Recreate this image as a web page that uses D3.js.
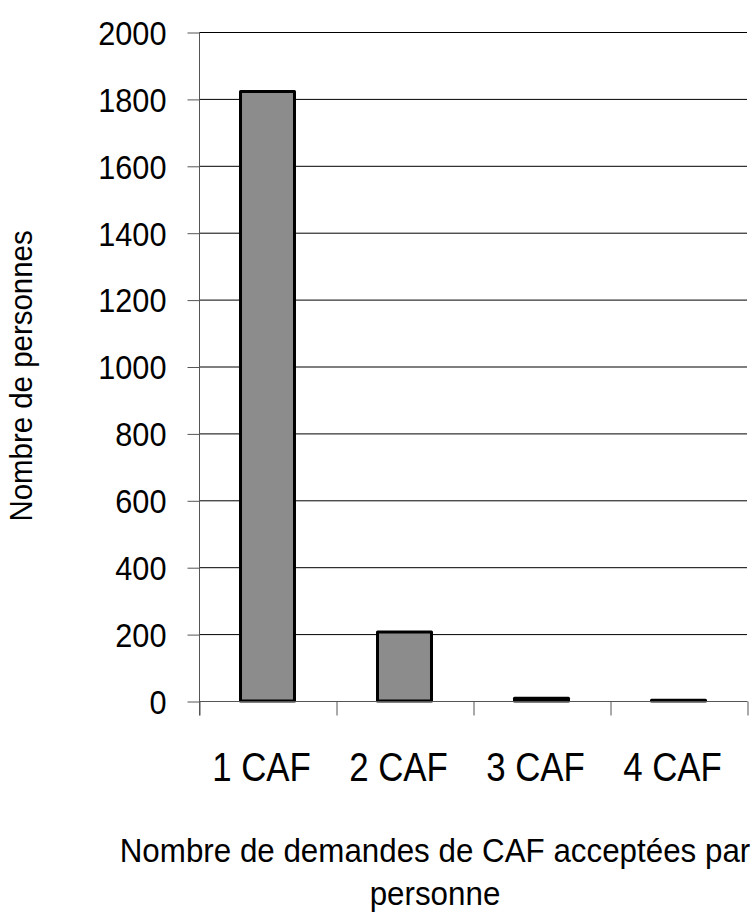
<!DOCTYPE html>
<html>
<head>
<meta charset="utf-8">
<script src="https://cdn.jsdelivr.net/npm/d3@7"></script>
<style>
  html, body { margin: 0; padding: 0; background: #fff; }
  svg text { font-family: "Liberation Sans", Arial, sans-serif; fill: #000; }
</style>
</head>
<body>
<svg id="chart" width="755" height="914"></svg>
<script>
// Number of accepted CAF requests per person
const categories = ["1 CAF", "2 CAF", "3 CAF", "4 CAF"];
const persons = [1822, 206, 8, 2];
const yTicks = [0, 200, 400, 600, 800, 1000, 1200, 1400, 1600, 1800, 2000];
const yTitle = "Nombre de personnes";
const xTitleLines = ["Nombre de demandes de CAF acceptées par", "personne"];

const svg = d3.select("#chart");
const plotLeft = 199, plotRight = 747, plotTop = 32, plotBottom = 701;

const y = d3.scaleLinear().domain([0, 2000]).range([plotBottom, plotTop]);
const x = d3.scaleBand().domain(categories).range([plotLeft, plotRight])
  .paddingInner(0.606).paddingOuter(0.303);
const xEdges = d3.scaleLinear().domain([0, categories.length]).range([plotLeft, plotRight]);

// horizontal gridlines
svg.append("g")
  .selectAll("line")
  .data(yTicks.filter(d => d > 0))
  .join("line")
  .attr("x1", plotLeft).attr("x2", plotRight)
  .attr("y1", d => y(d) + 0.5).attr("y2", d => y(d) + 0.5)
  .attr("stroke", "#000").attr("stroke-width", 1);

// bars
svg.append("g")
  .selectAll("rect")
  .data(categories)
  .join("rect")
  .attr("x", d => x(d))
  .attr("width", x.bandwidth())
  .attr("y", (d, i) => y(persons[i]))
  .attr("height", (d, i) => plotBottom - y(persons[i]))
  .attr("fill", "#8c8c8c")
  .attr("stroke", "#000")
  .attr("stroke-width", 3)
  .attr("stroke-linejoin", "round");

// y axis
const yAxis = svg.append("g")
  .attr("transform", `translate(${plotLeft + 0.5},0.5)`)
  .call(d3.axisLeft(y).tickValues(yTicks).tickSize(12).tickPadding(21).tickFormat(d3.format("d")));
yAxis.select(".domain").attr("stroke", "#555").attr("d", `M0,${plotTop - 0.5}V${plotBottom + 14}`);
yAxis.selectAll(".tick line").attr("stroke", "#555");
yAxis.selectAll(".tick text")
  .attr("font-size", 33)
  .attr("font-family", "Liberation Sans, Arial, sans-serif")
  .attr("fill", "#000")
  .attr("dy", "0.36em")
  .attr("transform", function () {
    const tx = +d3.select(this).attr("x");
    d3.select(this).attr("x", null);
    return `translate(${tx},0) scale(0.93,1)`;
  });

// x axis: category boundaries
const xAxis = svg.append("g")
  .attr("transform", `translate(0.5,${plotBottom + 0.5})`)
  .call(d3.axisBottom(xEdges).tickValues(d3.range(categories.length + 1)).tickSize(14).tickFormat(""));
xAxis.select(".domain").attr("stroke", "#555").attr("d", `M${plotLeft},0H${plotRight}`);
xAxis.selectAll(".tick line").attr("stroke", "#555");

// category labels
svg.append("g")
  .selectAll("text")
  .data(categories)
  .join("text")
  .attr("transform", d => `translate(${x(d) + x.bandwidth() / 2 - 6},781) scale(0.87,1)`)
  .attr("text-anchor", "middle")
  .attr("font-size", 40)
  .text(d => d);

// axis titles
svg.append("text")
  .attr("transform", `translate(32,376) rotate(-90) scale(0.95,1)`)
  .attr("text-anchor", "middle")
  .attr("font-size", 31)
  .text(yTitle);

svg.append("g")
  .selectAll("text")
  .data(xTitleLines)
  .join("text")
  .attr("transform", (d, i) => `translate(435,${862 + i * 43}) scale(0.95,1)`)
  .attr("text-anchor", "middle")
  .attr("font-size", 33)
  .text(d => d);
</script>
</body>
</html>
